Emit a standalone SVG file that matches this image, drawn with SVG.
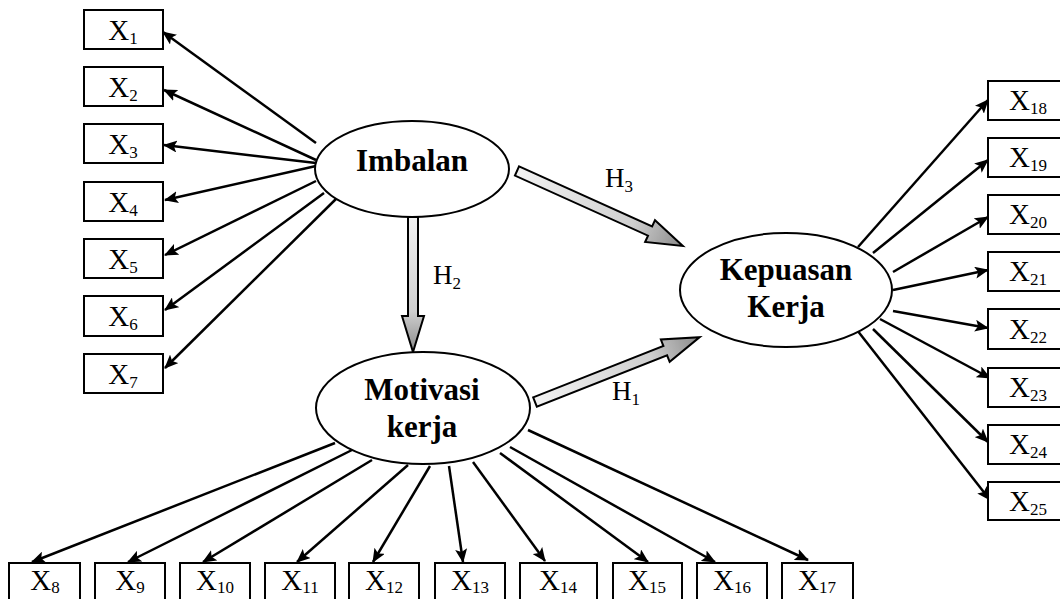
<svg xmlns="http://www.w3.org/2000/svg" width="1060" height="599" viewBox="0 0 1060 599">
<style>
.box{fill:#fff;stroke:#000;stroke-width:2}
.ell{fill:#fff;stroke:#000;stroke-width:2}
.xl{font-family:"Liberation Serif",serif;font-size:29px;fill:#000;text-anchor:middle}
.sub{font-size:17px}
.lat{font-family:"Liberation Serif",serif;font-size:31px;font-weight:bold;fill:#000;text-anchor:middle}
.hl{font-family:"Liberation Serif",serif;font-size:27px;fill:#000}
.con line{stroke:#000;stroke-width:2.5;marker-end:url(#ah)}
.blk{fill:url(#bg);stroke:#000;stroke-width:2;stroke-linejoin:miter}
</style>
<defs>
<marker id="ah" viewBox="0 0 14 12" refX="13" refY="6" markerWidth="14" markerHeight="12" markerUnits="userSpaceOnUse" orient="auto">
<path d="M0,0 L14,6 L0,12 L3,6 z" fill="#000"/>
</marker>
<linearGradient id="bg" x1="0" y1="0" x2="1" y2="0">
<stop offset="0" stop-color="#f2f2f2"/>
<stop offset="0.7" stop-color="#cfcfcf"/>
<stop offset="1" stop-color="#8a8a8a"/>
</linearGradient>
</defs>
<rect width="1060" height="599" fill="#fff"/>

<g class="con" id="connectors">
<line x1="316" y1="143" x2="163" y2="32"/>
<line x1="316" y1="160" x2="164" y2="90"/>
<line x1="316" y1="163" x2="164" y2="145"/>
<line x1="316" y1="166" x2="165" y2="200"/>
<line x1="316" y1="181" x2="165" y2="255"/>
<line x1="324" y1="193" x2="165" y2="310"/>
<line x1="340" y1="195" x2="165" y2="368"/>

<line x1="335" y1="443" x2="32" y2="562"/>
<line x1="354" y1="449" x2="128" y2="562"/>
<line x1="372" y1="460" x2="203" y2="562"/>
<line x1="408" y1="465" x2="297" y2="562"/>
<line x1="430" y1="466" x2="373" y2="562"/>
<line x1="449" y1="466" x2="463" y2="562"/>
<line x1="473" y1="462" x2="545" y2="561"/>
<line x1="500" y1="453" x2="648" y2="562"/>
<line x1="510" y1="447" x2="715" y2="562"/>
<line x1="528" y1="430" x2="808" y2="560"/>

<line x1="858" y1="247" x2="988" y2="100"/>
<line x1="873" y1="253" x2="988" y2="160"/>
<line x1="893" y1="272" x2="988" y2="217"/>
<line x1="893" y1="290" x2="988" y2="270"/>
<line x1="893" y1="311" x2="988" y2="328"/>
<line x1="880" y1="319" x2="990" y2="378"/>
<line x1="873" y1="329" x2="988" y2="442"/>
<line x1="857" y1="330" x2="990" y2="500"/>

<polygon class="blk" transform="translate(413,217) rotate(90)" points="0,-5 99,-5 99,-11 135,0 99,11 99,5 0,5"/>
<polygon class="blk" transform="translate(517,171) rotate(24.3)" points="0,-5 146,-5 146,-12 182,0 146,12 146,5 0,5"/>
<polygon class="blk" transform="translate(535,402) rotate(-21.5)" points="0,-5 140,-5 140,-12 177,0 140,12 140,5 0,5"/>
<text class="hl" x="605" y="187">H<tspan class="sub" dy="5">3</tspan></text>
<text class="hl" x="433" y="284">H<tspan class="sub" dy="5">2</tspan></text>
<text class="hl" x="612" y="400">H<tspan class="sub" dy="5">1</tspan></text>
</g>

<g id="imbalan"><ellipse class="ell" cx="412" cy="169" rx="97" ry="48"/><text class="lat" x="412" y="171">Imbalan</text></g>
<g id="motivasi"><ellipse class="ell" cx="423" cy="408" rx="107" ry="56"/><text class="lat" x="422" y="400">Motivasi</text><text class="lat" x="422" y="437">kerja</text></g>
<g id="kepuasan"><ellipse class="ell" cx="786" cy="290" rx="106" ry="57"/><text class="lat" x="786" y="280">Kepuasan</text><text class="lat" x="786" y="317">Kerja</text></g>

<g id="x1"><rect class="box" x="84" y="10" width="79" height="39"/><text class="xl" x="123" y="40">X<tspan class="sub" dy="4">1</tspan></text></g>
<g id="x2"><rect class="box" x="84" y="67" width="79" height="39"/><text class="xl" x="123" y="97">X<tspan class="sub" dy="4">2</tspan></text></g>
<g id="x3"><rect class="box" x="84" y="124" width="79" height="39"/><text class="xl" x="123" y="154">X<tspan class="sub" dy="4">3</tspan></text></g>
<g id="x4"><rect class="box" x="84" y="182" width="79" height="39"/><text class="xl" x="123" y="212">X<tspan class="sub" dy="4">4</tspan></text></g>
<g id="x5"><rect class="box" x="84" y="239" width="79" height="39"/><text class="xl" x="123" y="269">X<tspan class="sub" dy="4">5</tspan></text></g>
<g id="x6"><rect class="box" x="84" y="296" width="79" height="40"/><text class="xl" x="123" y="326">X<tspan class="sub" dy="4">6</tspan></text></g>
<g id="x7"><rect class="box" x="84" y="354" width="79" height="39"/><text class="xl" x="123" y="384">X<tspan class="sub" dy="4">7</tspan></text></g>

<g id="x8"><rect class="box" x="9" y="563" width="71" height="45"/><text class="xl" x="45" y="590">X<tspan class="sub" dy="3">8</tspan></text></g>
<g id="x9"><rect class="box" x="95" y="563" width="70" height="45"/><text class="xl" x="130" y="590">X<tspan class="sub" dy="3">9</tspan></text></g>
<g id="x10"><rect class="box" x="180" y="563" width="70" height="45"/><text class="xl" x="215" y="590">X<tspan class="sub" dy="3">10</tspan></text></g>
<g id="x11"><rect class="box" x="265" y="563" width="70" height="45"/><text class="xl" x="300" y="590">X<tspan class="sub" dy="3">11</tspan></text></g>
<g id="x12"><rect class="box" x="349" y="563" width="70" height="45"/><text class="xl" x="384" y="590">X<tspan class="sub" dy="3">12</tspan></text></g>
<g id="x13"><rect class="box" x="435" y="563" width="70" height="45"/><text class="xl" x="470" y="590">X<tspan class="sub" dy="3">13</tspan></text></g>
<g id="x14"><rect class="box" x="520" y="563" width="77" height="45"/><text class="xl" x="558" y="590">X<tspan class="sub" dy="3">14</tspan></text></g>
<g id="x15"><rect class="box" x="613" y="563" width="69" height="45"/><text class="xl" x="647" y="590">X<tspan class="sub" dy="3">15</tspan></text></g>
<g id="x16"><rect class="box" x="697" y="563" width="70" height="45"/><text class="xl" x="732" y="590">X<tspan class="sub" dy="3">16</tspan></text></g>
<g id="x17"><rect class="box" x="782" y="563" width="71" height="45"/><text class="xl" x="817" y="590">X<tspan class="sub" dy="3">17</tspan></text></g>

<g id="x18"><rect class="box" x="988" y="81" width="80" height="39"/><text class="xl" x="1028" y="110">X<tspan class="sub" dy="4">18</tspan></text></g>
<g id="x19"><rect class="box" x="988" y="138" width="80" height="39"/><text class="xl" x="1028" y="167">X<tspan class="sub" dy="4">19</tspan></text></g>
<g id="x20"><rect class="box" x="988" y="195" width="80" height="39"/><text class="xl" x="1028" y="224">X<tspan class="sub" dy="4">20</tspan></text></g>
<g id="x21"><rect class="box" x="988" y="252" width="80" height="39"/><text class="xl" x="1028" y="281">X<tspan class="sub" dy="4">21</tspan></text></g>
<g id="x22"><rect class="box" x="988" y="309" width="80" height="40"/><text class="xl" x="1028" y="339">X<tspan class="sub" dy="4">22</tspan></text></g>
<g id="x23"><rect class="box" x="988" y="368" width="80" height="39"/><text class="xl" x="1028" y="397">X<tspan class="sub" dy="4">23</tspan></text></g>
<g id="x24"><rect class="box" x="988" y="425" width="80" height="39"/><text class="xl" x="1028" y="454">X<tspan class="sub" dy="4">24</tspan></text></g>
<g id="x25"><rect class="box" x="988" y="482" width="80" height="38"/><text class="xl" x="1028" y="511">X<tspan class="sub" dy="4">25</tspan></text></g>
</svg>
